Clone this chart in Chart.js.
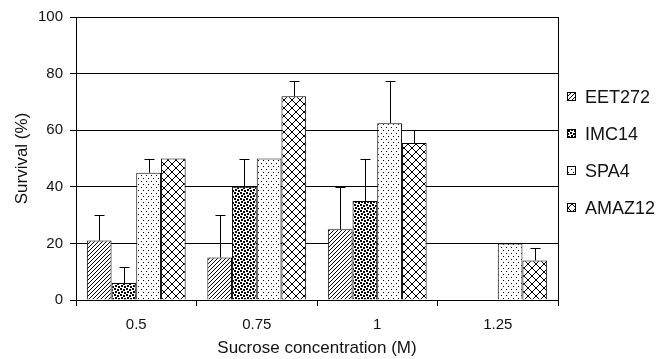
<!DOCTYPE html>
<html>
<head>
<meta charset="UTF-8">
<title>Survival vs sucrose concentration</title>
<script src="https://cdn.jsdelivr.net/npm/chart.js"></script>
<style>
  html, body { margin: 0; padding: 0; background: #fff; }
  #wrap { width: 670px; height: 359px; }
</style>
</head>
<body>
<div id="wrap"><canvas id="chart" width="670" height="359"></canvas></div>
<script>
// categories and values
const concentrations = ['0.5', '0.75', '1', '1.25'];
const seriesNames = ['EET272', 'IMC14', 'SPA4', 'AMAZ12'];

const eet272 = [21, 15, 25, 0];
const imc14 = [6, 40, 35, 0];
const spa4 = [45, 50, 62.5, 20];
const amaz12 = [50, 72, 55.5, 14];

// upward error bars (amount above the bar)
const eet272Err = [9, 15, 15, 0];
const imc14Err = [5.5, 10, 15, 0];
const spa4Err = [5, 0, 15, 0];
const amaz12Err = [0, 5.5, 4.5, 4.5];

const yTicks = [0, 20, 40, 60, 80, 100];

// fill patterns
function makePattern(w, h, draw) {
    const c = document.createElement('canvas');
    c.width = w; c.height = h;
    const g = c.getContext('2d');
    g.fillStyle = '#fff';
    g.fillRect(0, 0, w, h);
    g.fillStyle = '#000';
    g.strokeStyle = '#000';
    draw(g);
    return document.getElementById('chart').getContext('2d').createPattern(c, 'repeat');
}

const hatch = makePattern(4, 4, g => {
    g.lineWidth = 1;
    g.beginPath();
    g.moveTo(-1, 5); g.lineTo(5, -1);
    g.moveTo(-1, 1); g.lineTo(1, -1);
    g.moveTo(3, 5); g.lineTo(5, 3);
    g.stroke();
});
const denseDots = makePattern(6, 6, g => {
    g.fillRect(0, 0, 2, 2);
    g.fillRect(3, 1, 2, 2);
    g.fillRect(1, 3, 2, 2);
    g.fillRect(4, 4, 2, 2);
});
const sparseDots = makePattern(5, 6, g => {
    g.fillRect(1, 1, 1, 1);
    g.fillRect(3, 4, 1, 1);
});
const crossHatch = makePattern(8, 8, g => {
    g.lineWidth = 1;
    g.beginPath();
    g.moveTo(0, 0); g.lineTo(8, 8);
    g.moveTo(8, 0); g.lineTo(0, 8);
    g.stroke();
});

const values = [eet272, imc14, spa4, amaz12];
const errors = [eet272Err, imc14Err, spa4Err, amaz12Err];
const fills = [hatch, denseDots, sparseDots, crossHatch];

const datasets = seriesNames.map((name, i) => ({
    label: name,
    data: values[i],
    errors: errors[i],
    backgroundColor: fills[i],
    borderColor: '#000',
    borderWidth: 1,
    borderSkipped: 'bottom',
    categoryPercentage: 0.82,
    barPercentage: 1.0
}));

// error bars, frame on the right and the legend
const extras = {
    id: 'extras',
    afterDatasetsDraw(chart) {
        const ctx = chart.ctx;
        const y = chart.scales.y;
        ctx.save();
        ctx.strokeStyle = '#000';
        ctx.lineWidth = 1;
        chart.data.datasets.forEach((ds, i) => {
            const meta = chart.getDatasetMeta(i);
            meta.data.forEach((bar, j) => {
                const err = ds.errors[j];
                if (!err) return;
                const x = Math.round(bar.x) + 0.5;
                const top = Math.round(y.getPixelForValue(ds.data[j] + err)) + 0.5;
                ctx.beginPath();
                ctx.moveTo(x, bar.y);
                ctx.lineTo(x, top);
                ctx.moveTo(x - 5, top);
                ctx.lineTo(x + 5, top);
                ctx.stroke();
            });
        });
        const a = chart.chartArea;
        ctx.beginPath();
        ctx.moveTo(Math.round(a.right) + 0.5, a.top);
        ctx.lineTo(Math.round(a.right) + 0.5, a.bottom + 6);
        ctx.stroke();

        // legend
        ctx.font = '18px "Liberation Sans", Arial, sans-serif';
        ctx.textBaseline = 'middle';
        chart.data.datasets.forEach((ds, i) => {
            const ly = 97 + i * 37;
            ctx.fillStyle = ds.backgroundColor;
            ctx.fillRect(567, ly - 4, 8, 8);
            ctx.strokeRect(567.5, ly - 4.5, 8, 8);
            ctx.fillStyle = '#111';
            ctx.fillText(ds.label, 585, ly + 1);
        });
        ctx.restore();
    }
};

Chart.defaults.font.family = '"Liberation Sans", Arial, sans-serif';
Chart.defaults.color = '#111';

new Chart(document.getElementById('chart'), {
    type: 'bar',
    data: { labels: concentrations, datasets: datasets },
    plugins: [extras],
    options: {
        responsive: false,
        animation: false,
        layout: { padding: { top: 17, right: 112, left: 0, bottom: 0 } },
        plugins: { legend: { display: false }, tooltip: { enabled: false } },
        scales: {
            x: {
                grid: { drawOnChartArea: false, offset: true, color: '#000', tickLength: 6 },
                border: { color: '#000' },
                ticks: { font: { size: 15 }, padding: 10 },
                title: { display: true, text: 'Sucrose concentration (M)', font: { size: 17 }, padding: 0 },
                afterFit: s => { s.height = 59; }
            },
            y: {
                min: 0, max: 100,
                afterBuildTicks: s => { s.ticks = yTicks.map(v => ({ value: v })); },
                grid: { color: '#000', tickLength: 6 },
                border: { color: '#000' },
                ticks: { font: { size: 15 }, padding: 7 },
                title: { display: true, text: 'Survival (%)', font: { size: 17 }, padding: { top: 12, bottom: 0 } },
                afterFit: s => { s.width = 76; }
            }
        }
    }
});
</script>
</body>
</html>
